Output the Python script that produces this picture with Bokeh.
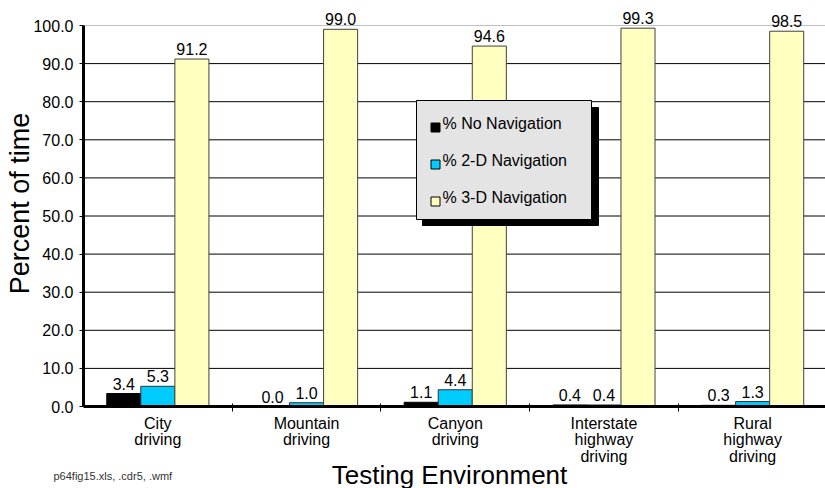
import math
from bokeh.plotting import figure
from bokeh.models import ColumnDataSource, Range1d, FixedTicker
from bokeh.core.properties import value
from bokeh.embed import file_html
from bokeh.resources import INLINE

categories = ["City\ndriving", "Mountain\ndriving", "Canyon\ndriving",
              "Interstate\nhighway\ndriving", "Rural\nhighway\ndriving"]
series_names = ["% No Navigation", "% 2-D Navigation", "% 3-D Navigation"]
no_nav = [3.4, 0.0, 1.1, 0.4, 0.3]
nav_2d = [5.3, 1.0, 4.4, 0.4, 1.3]
nav_3d = [91.2, 99.0, 94.6, 99.3, 98.5]
y_ticks = [0, 10, 20, 30, 40, 50, 60, 70, 80, 90, 100]

FONT = "Liberation Sans"
colors = ["#000000", "#00ccff", "#ffffc0"]
outlines = ["#000000", "#333333", "#404040"]

W, H = 825, 488
AX_X, AX_Y = 83, 406          # pixel position of the axes' origin
PX_PER_CAT = 148.7            # pixels per category
PX_PER_PCT = 3.81             # pixels per percent

x_start = -AX_X / PX_PER_CAT
x_end = (W - AX_X) / PX_PER_CAT
y_start = -(H - AX_Y) / PX_PER_PCT
y_end = AX_Y / PX_PER_PCT

p = figure(width=W, height=H, x_range=Range1d(x_start, x_end), y_range=Range1d(y_start, y_end),
           output_backend="svg", toolbar_location=None,
           min_border_left=0, min_border_right=0, min_border_top=0, min_border_bottom=0)
p.outline_line_color = None
p.background_fill_color = "white"
p.xgrid.visible = False
p.ygrid.visible = False


def dx(px):
    return (px - AX_X) / PX_PER_CAT


def dy(py):
    return (AX_Y - py) / PX_PER_PCT


# horizontal grid lines from the axis to the right edge
grid_vals = y_ticks[1:]
p.segment(x0=[0] * len(grid_vals), x1=[x_end] * len(grid_vals), y0=grid_vals, y1=grid_vals,
          line_color=["black"] * (len(grid_vals) - 1) + ["#c0c0c0"], line_width=1)

bw = 0.229
offsets = [-bw, 0.0, bw]
for vals, off, col, oc in zip([no_nav, nav_2d, nav_3d], offsets, colors, outlines):
    xs = [i + 0.5 + off for i in range(len(vals))]
    src = ColumnDataSource(dict(x=xs, top=vals, lab=["%.1f" % v for v in vals]))
    p.vbar(x="x", top="top", width=bw, bottom=0, source=src,
           fill_color=col, line_color=oc, line_width=1)
    p.text(x="x", y="top", text="lab", source=src, y_offset=-4,
           text_align="center", text_baseline="bottom",
           text_font=value(FONT), text_font_size="16px", text_color="#000000")

# y axis (fixed at x = 0)
yax = p.yaxis[0]
yax.fixed_location = 0
yax.ticker = FixedTicker(ticks=y_ticks)
yax.bounds = (0, 100)
yax.major_label_overrides = {t: "%.1f" % t for t in y_ticks}
yax.axis_line_width = 3
yax.axis_line_color = "black"
yax.major_tick_in = 0
yax.major_tick_out = 4
yax.major_tick_line_color = "black"
yax.minor_tick_line_color = None
yax.major_label_text_font = FONT
yax.major_label_text_font_size = "16px"
yax.major_label_text_color = "black"
yax.major_label_standoff = 6

# x axis (fixed at y = 0)
xax = p.xaxis[0]
xax.fixed_location = 0
xax.bounds = (0, x_end)
xax.ticker = FixedTicker(ticks=[i + 0.5 for i in range(len(categories))],
                         minor_ticks=[1, 2, 3, 4])
xax.major_label_overrides = {i + 0.5: c for i, c in enumerate(categories)}
xax.axis_line_width = 3
xax.axis_line_color = "black"
xax.major_tick_line_color = None
xax.major_tick_in = 0
xax.major_tick_out = 0
xax.minor_tick_line_color = "black"
xax.minor_tick_in = 3
xax.minor_tick_out = 5
xax.major_label_text_font = FONT
xax.major_label_text_font_size = "16px"
xax.major_label_text_color = "black"
xax.major_label_text_line_height = 0.98
xax.major_label_standoff = 3

# legend (drawn manually with shadow)
p.quad(left=dx(422), right=dx(598), top=dy(107), bottom=dy(225),
       fill_color="black", line_color="black")
p.quad(left=dx(416), right=dx(591), top=dy(100), bottom=dy(219),
       fill_color="#e4e4e4", line_color="black", line_width=1)
item_y = [123, 160, 197]
for name, col, yy in zip(series_names, colors, item_y):
    p.scatter(x=[dx(435)], y=[dy(yy + 4)], marker="square", size=9,
              fill_color=col, line_color="black", line_width=1)
    p.text(x=[dx(442)], y=[dy(yy)], text=[name], text_align="left",
           text_baseline="middle", text_font=value(FONT), text_font_size="16px",
           text_color="black")

# axis titles and footnote
p.text(x=[dx(449)], y=[dy(474)], text=["Testing Environment"], text_align="center",
       text_baseline="middle", text_font=value(FONT), text_font_size="26px", text_color="black")
p.text(x=[dx(19)], y=[dy(203)], text=["Percent of time"], angle=math.pi / 2,
       text_align="center", text_baseline="middle", text_font=value(FONT),
       text_font_size="27px", text_color="black")
p.text(x=[dx(53)], y=[dy(475)], text=["p64fig15.xls, .cdr5, .wmf"], text_align="left",
       text_baseline="middle", text_font=value(FONT), text_font_size="11px",
       text_color="#333333")

open("out.html", "w").write(file_html(p, INLINE))
